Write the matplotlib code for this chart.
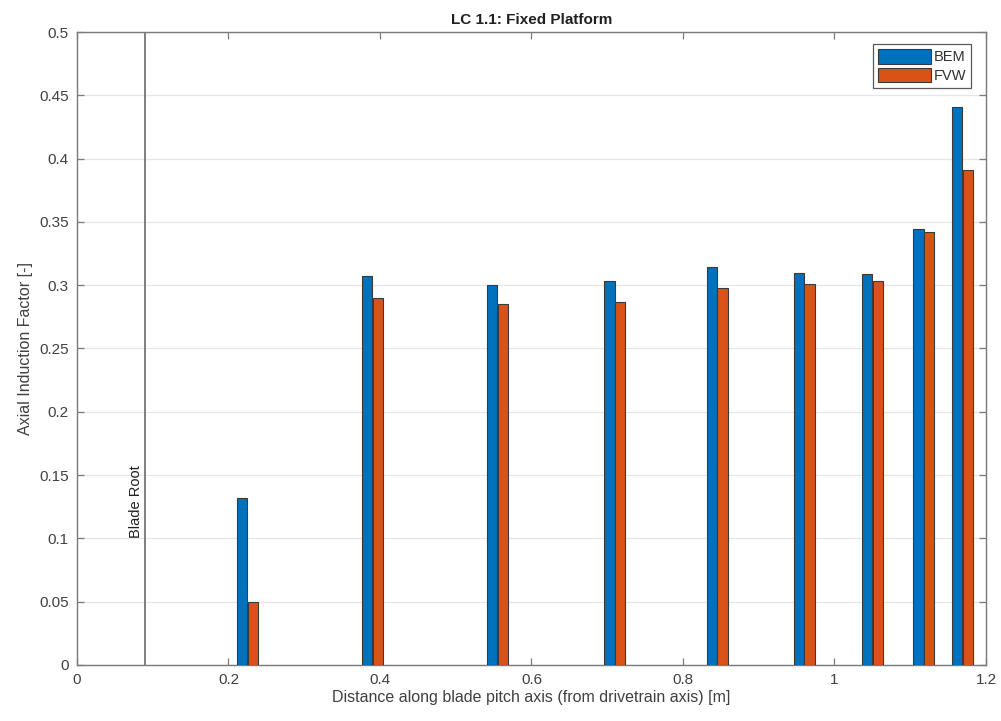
import numpy as np
import matplotlib
matplotlib.use("Agg")
import matplotlib.pyplot as plt

plt.rcParams['font.family'] = ['Liberation Sans', 'DejaVu Sans']

# spanwise stations along the blade pitch axis [m]
stations = [0.225, 0.39, 0.555, 0.71, 0.845, 0.96, 1.05, 1.118, 1.169]
bem = [0.132, 0.307, 0.300, 0.303, 0.314, 0.310, 0.309, 0.344, 0.441]
fvw = [0.050, 0.290, 0.285, 0.287, 0.298, 0.301, 0.303, 0.342, 0.391]
blade_root = 0.0898

xticks = [0, 0.2, 0.4, 0.6, 0.8, 1, 1.2]
xtick_labels = ['0', '0.2', '0.4', '0.6', '0.8', '1', '1.2']
yticks = [0, 0.05, 0.1, 0.15, 0.2, 0.25, 0.3, 0.35, 0.4, 0.45, 0.5]
ytick_labels = ['0', '0.05', '0.1', '0.15', '0.2', '0.25', '0.3', '0.35', '0.4', '0.45', '0.5']

axis_col = '#7a7a7a'
text_col = '#404040'

fig = plt.figure(figsize=(10.01, 7.21), dpi=100)
ax = fig.add_axes([0.0769, 0.0777, 0.9081, 0.8779])

w = 0.0135
x = np.array(stations)
ax.bar(x - w / 2 - 0.0004, bem, width=w, color='#0072BD', edgecolor='#3a3a3a',
       linewidth=0.8, label='BEM', zorder=3)
ax.bar(x + w / 2 + 0.0004, fvw, width=w, color='#D95319', edgecolor='#3a3a3a',
       linewidth=0.8, label='FVW', zorder=3)

ax.axvline(blade_root, color='#6a6a6a', linewidth=1.2, zorder=2)
ax.text(blade_root - 0.003, 0.1, 'Blade Root', rotation=90, ha='right', va='bottom',
        fontsize=10.5, color='#202020')

ax.set_xlim(0, 1.2)
ax.set_ylim(0, 0.5)
ax.set_xticks(xticks)
ax.set_xticklabels(xtick_labels)
ax.set_yticks(yticks)
ax.set_yticklabels(ytick_labels)

# horizontal grid only
ax.yaxis.grid(True, color='#e6e6e6', linewidth=0.9, zorder=0)
ax.set_axisbelow(True)
ax.tick_params(direction='in', length=5, width=0.9, color=axis_col,
               labelcolor=text_col, labelsize=11, top=True, right=True, pad=6)
for s in ax.spines.values():
    s.set_color(axis_col)
    s.set_linewidth(1.0)

ax.set_title('LC 1.1: Fixed Platform', fontsize=11, fontweight='bold', color='#202020', pad=6)
ax.set_xlabel('Distance along blade pitch axis (from drivetrain axis) [m]', fontsize=11.5,
              color=text_col, labelpad=2)
ax.set_ylabel('Axial Induction Factor [-]', fontsize=11.5, color=text_col, labelpad=4)

leg = ax.legend(loc='upper right', bbox_to_anchor=(0.984, 0.981), fontsize=10.5,
                handlelength=3.6, handleheight=1.15, handletextpad=0.2,
                borderpad=0.35, labelspacing=0.25, fancybox=False, framealpha=1,
                borderaxespad=0.0)
leg.get_frame().set_edgecolor('#5a5a5a')
leg.get_frame().set_linewidth(0.9)
for t in leg.get_texts():
    t.set_color('#303030')

fig.savefig('out.png', dpi=100)
